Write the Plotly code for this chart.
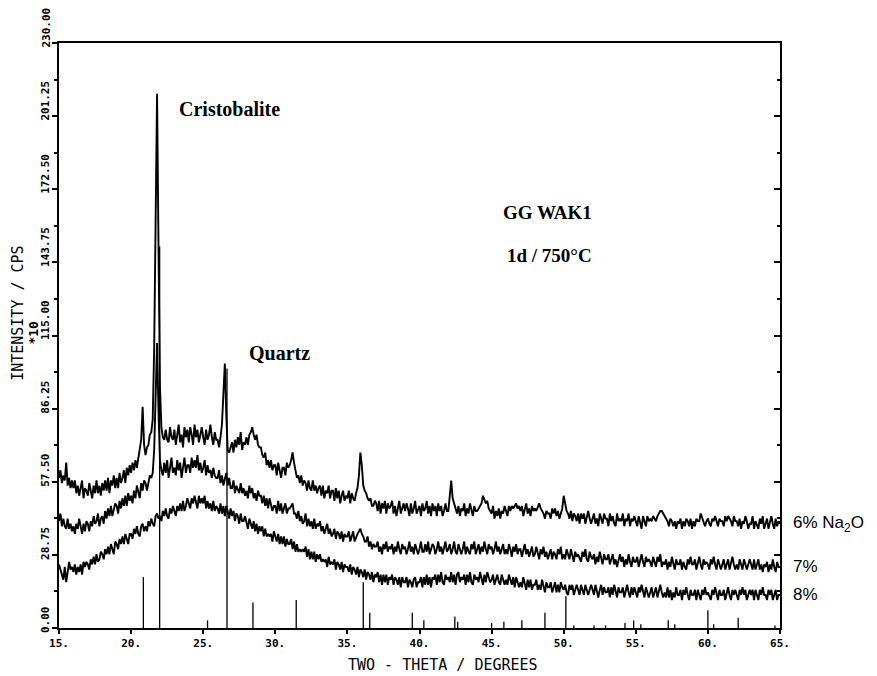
import plotly.graph_objects as go

# Diffractogram sampling: 2-theta from 15.0 deg in 0.1 deg steps
two_theta_start = 15.0
two_theta_step = 0.1

# Intensity (cps x10), one row per degree (x.0 ... x.9), last value at 65.0
na6 = [
    59, 62, 57, 60, 58, 65, 56, 59, 55, 58,
    55, 58, 53, 56, 52, 56, 58, 51, 55, 54,
    52, 57, 54, 51, 56, 53, 58, 53, 56, 52,
    57, 54, 58, 54, 59, 53, 58, 56, 60, 55,
    59, 55, 61, 57, 59, 62, 57, 63, 60, 64,
    61, 65, 62, 66, 63, 67, 69, 74, 87, 72,
    68, 71, 72, 76, 77, 82, 110, 160, 210, 150,
    95, 79, 75, 74, 78, 74, 73, 79, 75, 74,
    78, 72, 76, 80, 73, 76, 71, 79, 75, 78,
    73, 79, 76, 72, 80, 75, 78, 73, 76, 79,
    75, 72, 78, 74, 76, 80, 75, 72, 77, 74,
    74, 71, 75, 80, 92, 104, 84, 70, 69, 71,
    73, 69, 74, 71, 75, 72, 77, 70, 73, 72,
    75, 72, 76, 77, 79, 76, 74, 76, 72, 71,
    71, 68, 67, 69, 64, 66, 63, 66, 62, 64,
    64, 60, 65, 62, 59, 63, 63, 60, 65, 63,
    64, 66, 69, 65, 61, 59, 60, 57, 60, 56,
    58, 57, 54, 58, 55, 54, 58, 54, 56, 53,
    55, 56, 52, 56, 51, 54, 53, 56, 51, 54,
    54, 50, 55, 51, 54, 49, 52, 54, 50, 52,
    51, 54, 49, 53, 51, 50, 53, 55, 60, 69,
    64, 56, 54, 53, 51, 50, 51, 48, 48, 50,
    49, 46, 50, 45, 49, 47, 50, 45, 49, 47,
    48, 50, 45, 48, 44, 47, 50, 45, 47, 49,
    46, 49, 47, 44, 49, 45, 47, 50, 45, 47,
    48, 44, 49, 46, 47, 50, 45, 48, 44, 49,
    46, 48, 44, 49, 46, 48, 44, 46, 49, 46,
    46, 52, 58, 51, 49, 47, 45, 48, 44, 47,
    46, 49, 44, 47, 45, 49, 47, 44, 48, 46,
    46, 47, 48, 49, 52, 50, 49, 50, 47, 46,
    45, 48, 43, 46, 44, 47, 43, 46, 45, 48,
    46, 44, 48, 46, 48, 47, 48, 49, 47, 48,
    46, 48, 44, 46, 49, 45, 47, 44, 48, 46,
    47, 46, 48, 49, 47, 46, 45, 43, 46, 45,
    45, 43, 47, 45, 47, 44, 46, 43, 45, 47,
    52, 48, 46, 45, 43, 46, 42, 45, 44, 42,
    45, 41, 45, 43, 45, 41, 43, 46, 43, 41,
    43, 45, 41, 43, 40, 45, 43, 41, 45, 43,
    43, 40, 45, 42, 44, 41, 40, 45, 42, 43,
    42, 45, 40, 43, 42, 45, 40, 43, 42, 44,
    42, 40, 44, 42, 39, 44, 42, 40, 44, 42,
    43, 42, 44, 43, 42, 44, 45, 46, 46, 45,
    44, 43, 42, 40, 43, 42, 40, 42, 39, 42,
    41, 43, 39, 42, 40, 43, 42, 40, 43, 39,
    42, 40, 43, 42, 42, 45, 43, 42, 40, 42,
    43, 41, 40, 43, 42, 44, 42, 40, 43, 42,
    42, 40, 44, 42, 44, 43, 42, 40, 44, 42,
    42, 40, 43, 39, 42, 41, 44, 42, 39, 41,
    41, 44, 39, 42, 40, 39, 43, 41, 44, 39,
    41, 43, 39, 41, 44, 41, 39, 43, 40, 42,
    41,
]

na7 = [
    42, 45, 40, 43, 40, 39, 43, 39, 41, 38,
    40, 37, 41, 39, 43, 40, 37, 41, 38, 42,
    41, 38, 42, 40, 44, 41, 42, 45, 40, 43,
    44, 41, 46, 43, 47, 44, 48, 44, 46, 49,
    48, 45, 50, 47, 51, 48, 52, 48, 53, 50,
    52, 49, 54, 51, 56, 54, 51, 57, 54, 58,
    57, 54, 58, 60, 59, 61, 70, 90, 112, 85,
    66, 62, 60, 65, 61, 66, 59, 63, 67, 61,
    63, 60, 66, 62, 65, 59, 63, 67, 61, 64,
    64, 61, 67, 63, 66, 63, 68, 62, 65, 61,
    63, 66, 60, 64, 61, 62, 59, 63, 60, 59,
    59, 62, 57, 60, 56, 58, 61, 56, 59, 55,
    55, 58, 53, 56, 54, 53, 57, 53, 55, 52,
    54, 51, 56, 53, 55, 51, 53, 50, 54, 52,
    52, 49, 52, 48, 51, 47, 51, 49, 46, 48,
    48, 45, 50, 46, 49, 45, 47, 49, 45, 47,
    47, 48, 49, 45, 45, 43, 46, 42, 44, 41,
    42, 45, 40, 43, 40, 42, 39, 43, 39, 41,
    40, 42, 38, 40, 37, 39, 41, 37, 39, 36,
    37, 39, 35, 38, 37, 35, 38, 34, 37, 36,
    36, 38, 34, 36, 38, 34, 36, 37, 38, 39,
    37, 36, 34, 34, 36, 32, 34, 31, 33, 32,
    32, 34, 30, 32, 29, 33, 31, 34, 30, 32,
    31, 33, 29, 32, 30, 34, 31, 29, 33, 31,
    32, 29, 31, 34, 30, 32, 29, 33, 31, 29,
    31, 34, 30, 30, 33, 30, 34, 29, 31, 33,
    32, 29, 31, 34, 30, 32, 29, 31, 34, 30,
    31, 33, 29, 31, 34, 30, 29, 33, 31, 29,
    31, 34, 29, 32, 30, 29, 33, 31, 34, 29,
    31, 33, 29, 32, 30, 34, 31, 29, 33, 31,
    32, 29, 31, 34, 30, 32, 29, 31, 33, 29,
    31, 29, 33, 31, 28, 32, 30, 33, 29, 31,
    31, 28, 30, 33, 29, 31, 28, 30, 32, 28,
    29, 32, 30, 27, 31, 29, 32, 28, 30, 27,
    29, 31, 27, 30, 29, 27, 31, 29, 32, 27,
    29, 27, 31, 29, 27, 31, 29, 26, 30, 28,
    29, 27, 26, 30, 28, 31, 27, 26, 30, 28,
    27, 29, 25, 28, 26, 30, 27, 25, 29, 27,
    27, 29, 25, 27, 29, 25, 27, 24, 27, 29,
    26, 28, 24, 27, 25, 29, 26, 24, 28, 26,
    26, 28, 24, 26, 29, 26, 24, 28, 26, 27,
    26, 24, 28, 26, 24, 28, 26, 29, 24, 26,
    25, 27, 23, 26, 24, 28, 25, 23, 27, 25,
    25, 27, 23, 26, 24, 23, 27, 25, 28, 25,
    25, 27, 23, 25, 28, 25, 23, 27, 25, 26,
    25, 23, 27, 25, 28, 25, 23, 27, 25, 23,
    25, 27, 23, 25, 27, 23, 25, 28, 25, 23,
    25, 23, 27, 25, 23, 27, 25, 23, 25, 27,
    25, 23, 27, 23, 25, 27, 23, 25, 22, 25,
    24, 26, 22, 25, 23, 27, 24, 22, 26, 24,
    24,
]

na8 = [
    25, 23, 20, 19, 24, 18, 22, 26, 23, 24,
    22, 25, 21, 24, 22, 25, 21, 26, 24, 26,
    25, 23, 27, 25, 28, 25, 29, 26, 27, 30,
    29, 27, 31, 29, 32, 29, 33, 31, 29, 34,
    33, 31, 35, 33, 36, 33, 37, 35, 33, 37,
    37, 35, 39, 37, 40, 37, 36, 40, 41, 38,
    40, 38, 42, 40, 43, 41, 40, 44, 45, 43,
    44, 42, 46, 44, 47, 44, 43, 47, 45, 48,
    46, 44, 48, 46, 49, 46, 50, 46, 48, 51,
    49, 47, 51, 49, 52, 50, 47, 52, 49, 51,
    49, 52, 47, 50, 47, 49, 46, 50, 46, 48,
    47, 45, 49, 45, 48, 44, 48, 46, 43, 47,
    44, 46, 42, 45, 44, 41, 45, 42, 42, 44,
    42, 39, 43, 41, 39, 42, 38, 41, 37, 40,
    38, 40, 36, 39, 36, 37, 36, 37, 34, 38,
    36, 34, 37, 33, 36, 33, 36, 32, 35, 33,
    33, 35, 31, 34, 30, 33, 30, 31, 30, 31,
    30, 32, 28, 31, 27, 30, 27, 30, 26, 29,
    27, 29, 26, 27, 26, 27, 24, 28, 25, 26,
    25, 27, 23, 26, 25, 23, 26, 22, 25, 24,
    24, 22, 25, 21, 24, 23, 21, 24, 20, 23,
    22, 20, 23, 19, 22, 21, 19, 22, 18, 21,
    20, 22, 18, 21, 17, 21, 18, 21, 17, 20,
    19, 21, 17, 20, 19, 17, 20, 16, 20, 18,
    18, 20, 16, 19, 18, 16, 19, 20, 16, 18,
    18, 20, 16, 20, 17, 21, 17, 20, 16, 20,
    19, 21, 17, 21, 18, 22, 18, 17, 21, 19,
    20, 18, 22, 18, 21, 17, 21, 22, 18, 20,
    19, 21, 17, 21, 18, 22, 18, 17, 21, 19,
    20, 18, 22, 20, 17, 21, 18, 22, 20, 18,
    19, 21, 17, 19, 21, 18, 17, 21, 19, 17,
    19, 17, 21, 19, 17, 20, 16, 20, 18, 16,
    18, 16, 20, 18, 15, 19, 16, 19, 15, 17,
    17, 19, 15, 17, 15, 19, 17, 14, 18, 16,
    16, 18, 14, 16, 18, 14, 17, 14, 18, 16,
    15, 17, 14, 13, 17, 15, 17, 13, 15, 17,
    15, 13, 17, 15, 13, 17, 15, 13, 15, 17,
    15, 13, 17, 15, 12, 15, 17, 13, 16, 14,
    14, 16, 12, 16, 13, 17, 14, 12, 16, 14,
    14, 16, 12, 14, 17, 14, 12, 16, 13, 16,
    14, 12, 16, 14, 17, 14, 12, 16, 14, 12,
    14, 16, 12, 14, 16, 12, 14, 17, 14, 12,
    14, 12, 16, 12, 15, 11, 14, 12, 16, 13,
    13, 15, 11, 15, 13, 16, 13, 11, 15, 13,
    13, 15, 11, 15, 13, 11, 15, 13, 16, 13,
    14, 12, 11, 15, 13, 16, 13, 11, 15, 13,
    13, 15, 11, 13, 16, 13, 11, 15, 13, 15,
    13, 11, 15, 13, 16, 13, 15, 11, 13, 15,
    13, 15, 11, 15, 13, 11, 15, 13, 16, 13,
    13, 11, 15, 13, 15, 11, 13, 15, 11, 13,
    13,
]

series = [na6, na7, na8]
series_labels = ["6% Na<sub>2</sub>O", "7%", "8%"]

# Reference line pattern (2-theta, relative height in the same units)
stick_pos = [20.85, 21.98, 25.3, 26.65, 28.45, 31.45, 36.1, 36.55, 39.5, 40.3,
             42.45, 42.65, 45.0, 45.85, 47.1, 48.7, 50.15, 50.7, 52.1, 52.9,
             54.25, 54.85, 55.35, 57.25, 57.7, 60.0, 60.4, 62.1, 64.65]
stick_int = [20, 150, 3, 102, 10, 11, 18, 6, 6, 3,
             4.5, 2.5, 2, 2.5, 3, 6, 12.5, 1, 1, 1,
             2, 3, 1.5, 3, 1.5, 7, 1.5, 4, 1]

y_tick_vals = [0, 28.75, 57.5, 86.25, 115, 143.75, 172.5, 201.25, 230]
y_tick_text = ["0.00", "28.75", "57.50", "86.25", "115.00", "143.75",
               "172.50", "201.25", "230.00"]
x_tick_vals = [15, 20, 25, 30, 35, 40, 45, 50, 55, 60, 65]
x_tick_text = ["15.", "20.", "25.", "30.", "35.", "40.", "45.", "50.", "55.", "60.", "65."]

MONO = "DejaVu Sans Mono"
SERIF = "Liberation Serif"
SANS = "Liberation Sans"

fig = go.Figure()

for values in series:
    xs = [round(two_theta_start + i * two_theta_step, 2) for i in range(len(values))]
    fig.add_trace(go.Scatter(x=xs, y=values, mode="lines",
                             line=dict(color="black", width=1.9),
                             hoverinfo="skip", showlegend=False))

# stick pattern drawn as vertical segments from the baseline
sx, sy = [], []
for p, h in zip(stick_pos, stick_int):
    sx += [p, p, None]
    sy += [0, h, None]
fig.add_trace(go.Scatter(x=sx, y=sy, mode="lines",
                         line=dict(color="black", width=1.3),
                         hoverinfo="skip", showlegend=False))

# carrier for the right-hand tick axis
fig.add_trace(go.Scatter(x=[x_tick_vals[0]], y=[y_tick_vals[0]], yaxis="y2",
                         mode="markers", marker=dict(opacity=0),
                         hoverinfo="skip", showlegend=False))

fig.update_layout(
    width=877, height=676,
    margin=dict(l=59, r=97, t=43, b=48),
    paper_bgcolor="white", plot_bgcolor="white",
    xaxis=dict(range=[15, 65], tickvals=x_tick_vals, ticktext=x_tick_text,
               showgrid=False, zeroline=False, showline=True, mirror=True,
               linecolor="black", linewidth=2, ticks="outside", ticklen=4,
               tickwidth=2, tickcolor="black",
               tickfont=dict(family=MONO, size=11, color="black", weight="bold")),
    yaxis=dict(range=[0, 230], tickvals=y_tick_vals, showticklabels=False,
               showgrid=False, zeroline=False, showline=True, mirror=True,
               linecolor="black", linewidth=2, ticks="outside", ticklen=5,
               tickwidth=2, tickcolor="black",
               minor=dict(dtick=14.375, ticks="outside", ticklen=3,
                          tickcolor="black", tickwidth=1.5)),
    yaxis2=dict(range=[0, 230], overlaying="y", side="right",
                tickvals=y_tick_vals, showticklabels=False, showgrid=False,
                zeroline=False, showline=False, ticks="inside", ticklen=6,
                tickwidth=2, tickcolor="black",
                minor=dict(dtick=14.375, ticks="inside", ticklen=3,
                           tickcolor="black", tickwidth=1.5)),
)

annotations = []

# rotated y tick labels sitting just above each tick
for v, t in zip(y_tick_vals, y_tick_text):
    annotations.append(dict(x=0, xref="paper", y=v, yref="y", text=t,
                            textangle=-90, showarrow=False,
                            xanchor="right", yanchor="bottom",
                            xshift=-5, yshift=-7,
                            font=dict(family=MONO, size=11, color="black", weight="bold")))

# axis titles
annotations.append(dict(x=0, xref="paper", y=0.537, yref="paper",
                        text="INTENSITY / CPS", textangle=-90, showarrow=False,
                        xanchor="center", yanchor="middle", xshift=-41,
                        font=dict(family=MONO, size=15, color="black")))
annotations.append(dict(x=0, xref="paper", y=0.505, yref="paper",
                        text="*10", textangle=-90, showarrow=False,
                        xanchor="center", yanchor="middle", xshift=-25,
                        font=dict(family=MONO, size=13, color="black", weight="bold")))
annotations.append(dict(x=0.532, xref="paper", y=0, yref="paper",
                        text="TWO - THETA / DEGREES", showarrow=False,
                        xanchor="center", yanchor="middle", yshift=-37,
                        font=dict(family=MONO, size=15, color="black")))

# series labels at the right end of each trace
for values, lab in zip(series, series_labels):
    annotations.append(dict(x=65, y=values[-1], xref="x", yref="y", text=lab,
                            showarrow=False, xanchor="left", yanchor="middle",
                            xshift=11, font=dict(family=SANS, size=17, color="black")))

# phase and sample labels
annotations += [
    dict(x=23.2, y=204, text="<b>Cristobalite</b>", showarrow=False,
         xanchor="left", yanchor="middle",
         font=dict(family=SERIF, size=20, color="black")),
    dict(x=28.05, y=108, text="<b>Quartz</b>", showarrow=False,
         xanchor="left", yanchor="middle",
         font=dict(family=SERIF, size=20, color="black")),
    dict(x=48.9, y=163.5, text="<b>GG WAK1</b>", showarrow=False,
         xanchor="center", yanchor="middle",
         font=dict(family=SERIF, size=19, color="black")),
    dict(x=49.0, y=146.5, text="<b>1d / 750°C</b>", showarrow=False,
         xanchor="center", yanchor="middle",
         font=dict(family=SERIF, size=19, color="black")),
]

fig.update_layout(annotations=annotations)

fig.write_html("out.html")
